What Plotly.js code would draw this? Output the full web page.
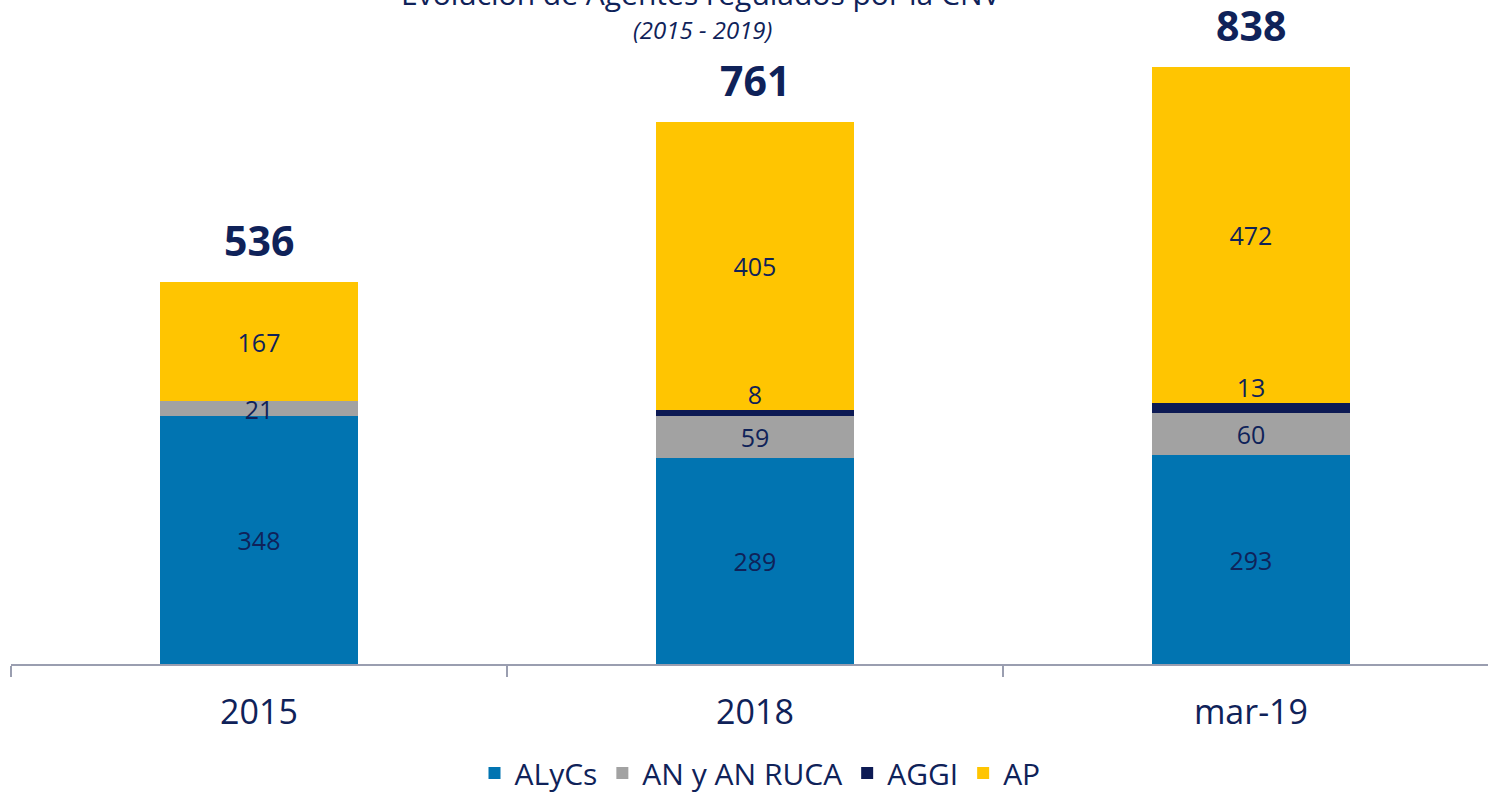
<!DOCTYPE html>
<html>
<head>
<meta charset="utf-8">
<script src="https://cdn.plot.ly/plotly-3.0.1.min.js"></script>
<style>html,body{margin:0;padding:0;background:#fff;}#chart{width:1488px;height:794px;}</style>
</head>
<body>
<div id="chart"></div>
<script>
const categories = ['2015', '2018', 'mar-19'];
const alycs = [348, 289, 293];
const anRuca = [21, 59, 60];
const aggi = [0, 8, 13];
const ap = [167, 405, 472];
const seriesNames = ['ALyCs', 'AN y AN RUCA', 'AGGI', 'AP'];

const navy = '#0f2259';
const font = 'Open Sans, Lato, sans-serif';
const totals = categories.map((c, i) => alycs[i] + anRuca[i] + aggi[i] + ap[i]);
const aggiTop = categories.map((c, i) => alycs[i] + anRuca[i] + aggi[i]);

function barTrace(name, vals, color, showText) {
  return {
    type: 'bar', name: name, x: categories, y: vals,
    marker: {color: color},
    text: showText ? vals.map(String) : undefined,
    textposition: showText ? 'inside' : 'none',
    insidetextanchor: 'middle',
    textangle: 0,
    constraintext: 'none',
    insidetextfont: {family: font, size: 25, color: navy},
    hoverinfo: 'skip'
  };
}

const traces = [
  barTrace(seriesNames[0], alycs, '#0174b1', true),
  barTrace(seriesNames[1], anRuca, '#a2a2a2', true),
  barTrace(seriesNames[2], aggi, '#0d1a54', false),
  barTrace(seriesNames[3], ap, '#ffc501', true),
  {
    type: 'scatter', mode: 'text', x: categories, y: aggiTop,
    text: aggi.map(v => v > 0 ? String(v) : ''),
    textposition: 'top center',
    textfont: {family: font, size: 25, color: navy},
    showlegend: false, hoverinfo: 'skip'
  }
];

const annotations = categories.map((c, i) => ({
  x: i, y: totals[i], xref: 'x', yref: 'y',
  text: '<b>' + totals[i] + '</b>', showarrow: false,
  yanchor: 'bottom', yshift: 12,
  font: {family: font, size: 41, color: navy}
}));
annotations.push({
  xref: 'paper', yref: 'paper', x: (700 - 11) / 1477, y: 1 + (40 + 7) / 624,
  xanchor: 'center', yanchor: 'middle', showarrow: false,
  text: 'Evolución de Agentes regulados por la CNV',
  font: {family: font, size: 30, color: navy}
});
annotations.push({
  xref: 'paper', yref: 'paper', x: (702 - 11) / 1477, y: 1 + (40 - 29) / 624,
  xanchor: 'center', yanchor: 'middle', showarrow: false,
  text: '<i>(2015 - 2019)</i>',
  font: {family: font, size: 24, color: navy}
});

const layout = {
  width: 1488, height: 794,
  margin: {l: 11, r: 0, t: 40, b: 130, autoexpand: false},
  paper_bgcolor: '#fff', plot_bgcolor: '#fff',
  barmode: 'stack', bargap: 0.6,
  showlegend: true,
  legend: {
    orientation: 'h', xref: 'paper', yref: 'paper',
    x: (760 - 11) / 1477, xanchor: 'center', y: -(773 - 664) / 624, yanchor: 'middle',
    itemgap: 40,
    font: {family: font, size: 30, color: navy}, traceorder: 'normal'
  },
  xaxis: {
    type: 'category', range: [-0.5, 2.478],
    showline: true, linecolor: '#9a9eb0', linewidth: 1.5,
    ticks: 'outside', tickson: 'boundaries', ticklen: 11, tickcolor: '#9a9eb0', tickwidth: 1.5,
    ticklabelstandoff: 18,
    tickfont: {family: font, size: 34, color: navy},
    showgrid: false, zeroline: false, fixedrange: true
  },
  yaxis: {range: [0, 876], visible: false, showgrid: false, zeroline: false, fixedrange: true},
  annotations: annotations
};

Plotly.newPlot('chart', traces, layout, {displayModeBar: false, staticPlot: true});
</script>
</body>
</html>
